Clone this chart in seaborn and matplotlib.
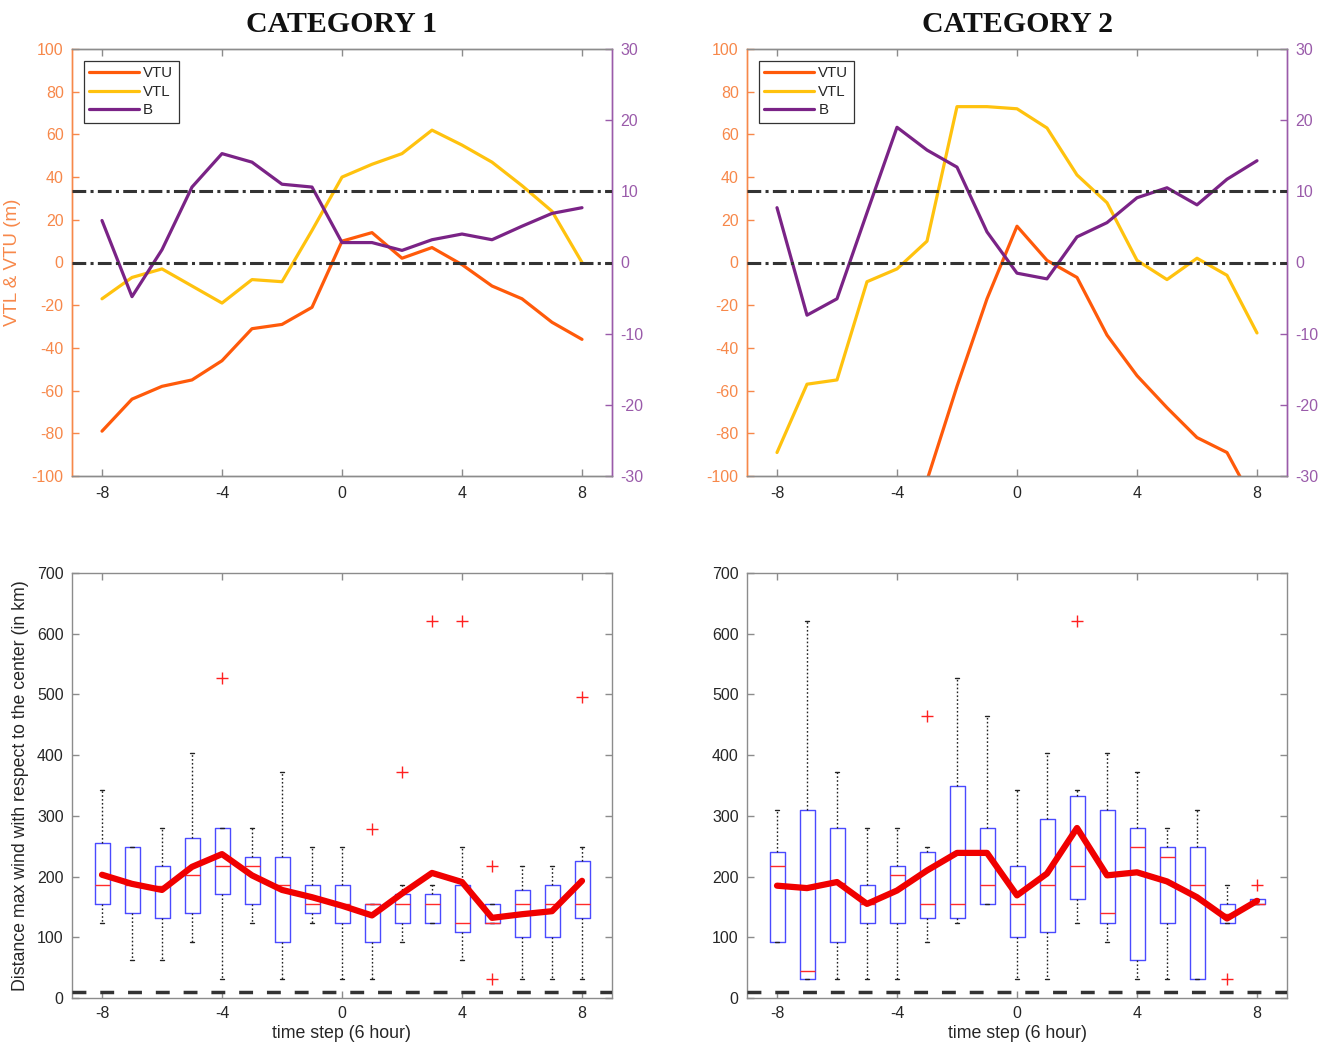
import matplotlib
matplotlib.use("Agg")
import matplotlib.pyplot as plt
import numpy as np
import pandas as pd
import seaborn as sns
from matplotlib.lines import Line2D

# ---------------- data ----------------
steps = list(range(-8, 9))

# top panels: VTU / VTL (left axis, m) and B (right axis)
vtu_c1 = [-79, -64, -58, -55, -46, -31, -29, -21, 10, 14, 2, 7, -1, -11, -17, -28, -36]
vtl_c1 = [-17, -7, -3, -11, -19, -8, -9, 15, 40, 46, 51, 62, 55, 47, 36, 24, 0]
b_c1 = [5.9, -4.8, 1.8, 10.6, 15.3, 14.1, 11.0, 10.6, 2.8, 2.8, 1.7, 3.2, 4.0, 3.2, 5.1, 6.9, 7.7]

vtu_c2 = [-260, -240, -215, -185, -150, -102, -58, -17, 17, 1, -7, -34, -53, -68, -82, -89, -115]
vtl_c2 = [-89, -57, -55, -9, -3, 10, 73, 73, 72, 63, 41, 28, 1, -8, 2, -6, -33]
b_c2 = [7.7, -7.4, -5.1, 7.0, 19.0, 15.8, 13.4, 4.3, -1.5, -2.3, 3.6, 5.6, 9.1, 10.5, 8.1, 11.7, 14.3]

b_ref_lines = [0, 10]

# bottom panels: box statistics of distance of max wind (km)
c1_whishi = [342, 248, 280, 404, 280, 280, 373, 248, 248, 155, 186, 186, 248, 155, 217, 217, 248]
c1_q3 = [256, 248, 217, 264, 280, 233, 233, 186, 186, 155, 171, 171, 186, 155, 178, 186, 225]
c1_med = [186, 186, 185, 202, 217, 217, 186, 155, 155, 155, 155, 155, 124, 124, 155, 155, 155]
c1_q1 = [155, 140, 132, 140, 171, 155, 93, 140, 124, 93, 124, 124, 109, 124, 100, 100, 132]
c1_whislo = [124, 62, 62, 93, 31, 124, 31, 124, 31, 31, 93, 124, 62, 124, 31, 31, 31]
c1_mean = [203, 188, 178, 216, 237, 202, 178, 166, 152, 136, 172, 206, 191, 132, 138, 143, 193]
c1_fliers = [[], [], [], [], [527], [], [], [], [], [279], [372], [621], [621], [217, 31], [], [], [496]]

c2_whishi = [310, 621, 373, 280, 280, 248, 527, 465, 342, 404, 342, 404, 373, 280, 310, 186, 163]
c2_q3 = [240, 310, 280, 186, 217, 240, 349, 280, 217, 295, 333, 310, 280, 248, 248, 155, 163]
c2_med = [217, 45, 190, 155, 202, 155, 155, 186, 155, 186, 217, 140, 248, 233, 186, 139, 155]
c2_q1 = [93, 31, 93, 124, 124, 132, 132, 155, 100, 109, 163, 124, 62, 124, 31, 124, 155]
c2_whislo = [93, 31, 31, 31, 31, 93, 124, 155, 31, 31, 124, 93, 31, 31, 31, 124, 155]
c2_mean = [185, 181, 191, 155, 177, 210, 239, 239, 169, 205, 280, 202, 207, 192, 166, 131, 160]
c2_fliers = [[], [], [], [], [], [465], [], [], [], [], [621], [], [], [], [], [31], [186]]

ref_dist = 10

titles = ["CATEGORY 1", "CATEGORY 2"]

# ---------------- style ----------------
sns.set_theme(style="white")
plt.rcParams["font.family"] = ["Liberation Sans", "DejaVu Sans"]
plt.rcParams["axes.unicode_minus"] = False
plt.rcParams["xtick.direction"] = "in"
plt.rcParams["ytick.direction"] = "in"

C_VTU = "#FF5A0A"
C_VTL = "#FFC20E"
C_B = "#7A2386"
C_LEFT = "#F7884A"
C_RIGHT = "#9A5BAA"
C_GREY = "#8C8C8C"
C_TXT = "#262626"
FS = 11.5

fig = plt.figure(figsize=(13.26, 10.52), dpi=100)
W = 540 / 1326
H_TOP = 427 / 1052
H_BOT = 425 / 1052
lefts = [72 / 1326, 747 / 1326]

top_data = [(vtu_c1, vtl_c1, b_c1), (vtu_c2, vtl_c2, b_c2)]
bot_data = [
    (c1_whislo, c1_q1, c1_med, c1_q3, c1_whishi, c1_mean, c1_fliers),
    (c2_whislo, c2_q1, c2_med, c2_q3, c2_whishi, c2_mean, c2_fliers),
]

dashdot = (0, (4.5, 1.4, 1.0, 1.4))

for i in range(2):
    # ---------- top panel ----------
    ax = fig.add_axes([lefts[i], 1 - 476 / 1052, W, H_TOP])
    ax2 = ax.twinx()
    vtu, vtl, b = top_data[i]
    df = pd.DataFrame({"step": steps, "VTU": vtu, "VTL": vtl, "B": b})
    sns.lineplot(data=df, x="step", y="VTU", ax=ax, color=C_VTU, lw=2.3)
    sns.lineplot(data=df, x="step", y="VTL", ax=ax, color=C_VTL, lw=2.3)
    sns.lineplot(data=df, x="step", y="B", ax=ax2, color=C_B, lw=2.3)
    for v in b_ref_lines:
        ax2.axhline(v, color="#333333", lw=2.2, ls=dashdot, zorder=5)
    ax.set_xlim(-9, 9)
    ax.set_ylim(-100, 100)
    ax2.set_ylim(-30, 30)
    ax.set_xticks([-8, -4, 0, 4, 8])
    ax.set_yticks(np.arange(-100, 101, 20))
    ax2.set_yticks(np.arange(-30, 31, 10))
    ax.set_xlabel("")
    ax2.set_ylabel("")
    if i == 0:
        ax.set_ylabel("VTL & VTU (m)", color=C_LEFT, fontsize=13.5, labelpad=8)
    else:
        ax.set_ylabel("")
    ax.tick_params(axis="x", colors=C_TXT, labelsize=FS, top=True, bottom=True,
                   length=5, width=1, color=C_GREY, pad=7)
    ax.tick_params(axis="y", colors=C_LEFT, labelsize=FS, left=True, length=5, width=1, pad=6)
    ax2.tick_params(axis="y", colors=C_RIGHT, labelsize=FS, right=True, length=5, width=1, pad=6)
    for sp in ["top", "bottom"]:
        ax.spines[sp].set_color(C_GREY)
        ax2.spines[sp].set_color(C_GREY)
    ax.spines["left"].set_color(C_LEFT)
    ax2.spines["left"].set_color(C_LEFT)
    ax.spines["right"].set_color(C_RIGHT)
    ax2.spines["right"].set_color(C_RIGHT)
    for a in (ax, ax2):
        for sp in a.spines.values():
            sp.set_linewidth(1.0)
    ax.set_title(titles[i], fontfamily=["Liberation Serif", "DejaVu Serif"],
                 fontweight="bold", fontsize=21.5, pad=12, color="#111111")
    handles = [Line2D([], [], color=C_VTU, lw=2.3), Line2D([], [], color=C_VTL, lw=2.3),
               Line2D([], [], color=C_B, lw=2.3)]
    leg = ax2.legend(handles, ["VTU", "VTL", "B"], loc="upper left", fontsize=10.8,
                     frameon=True, fancybox=False, edgecolor="#333333", framealpha=1,
                     handlelength=3.3, handletextpad=0.3, borderpad=0.35,
                     labelspacing=0.3, borderaxespad=0.8)
    leg.get_frame().set_linewidth(0.9)

    # ---------- bottom panel ----------
    bx = fig.add_axes([lefts[i], 1 - 998 / 1052, W, H_BOT])
    lo, q1, med, q3, hi, mean, fl = bot_data[i]
    stats = []
    for k in range(len(steps)):
        stats.append({"whislo": lo[k], "q1": q1[k], "med": med[k], "q3": q3[k],
                      "whishi": hi[k], "fliers": fl[k]})
    bx.bxp(stats, positions=steps, widths=0.5, capwidths=0.12, manage_ticks=False,
           boxprops=dict(color="#4A4AFF", lw=1.0),
           medianprops=dict(color="#FF2A2A", lw=1.0),
           whiskerprops=dict(color="#222222", lw=1.0, ls=(0, (1.2, 1.6))),
           capprops=dict(color="#222222", lw=1.0),
           flierprops=dict(marker="+", markeredgecolor="#FF2020", markersize=8,
                           markeredgewidth=1.0, linestyle="none"))
    mdf = pd.DataFrame({"step": steps, "mean": mean})
    sns.lineplot(data=mdf, x="step", y="mean", ax=bx, color="#F00000", lw=4.5, zorder=6)
    bx.axhline(ref_dist, color="#333333", lw=2.5, ls=(0, (4, 4)), zorder=7)
    bx.set_xlim(-9, 9)
    bx.set_ylim(0, 700)
    bx.set_xticks([-8, -4, 0, 4, 8])
    bx.set_yticks(np.arange(0, 701, 100))
    bx.set_xlabel("time step (6 hour)", fontsize=12.8, color=C_TXT, labelpad=3)
    if i == 0:
        bx.set_ylabel("Distance max wind with respect to the center (in km)",
                      fontsize=12.8, color=C_TXT, labelpad=6)
    else:
        bx.set_ylabel("")
    bx.tick_params(axis="both", colors=C_TXT, labelsize=FS, top=True, bottom=True,
                   left=True, right=True, length=5, width=1, pad=6)
    bx.tick_params(axis="both", color=C_GREY)
    for sp in bx.spines.values():
        sp.set_color(C_GREY)
        sp.set_linewidth(1.0)

fig.savefig("out.png", dpi=100, facecolor="white")
